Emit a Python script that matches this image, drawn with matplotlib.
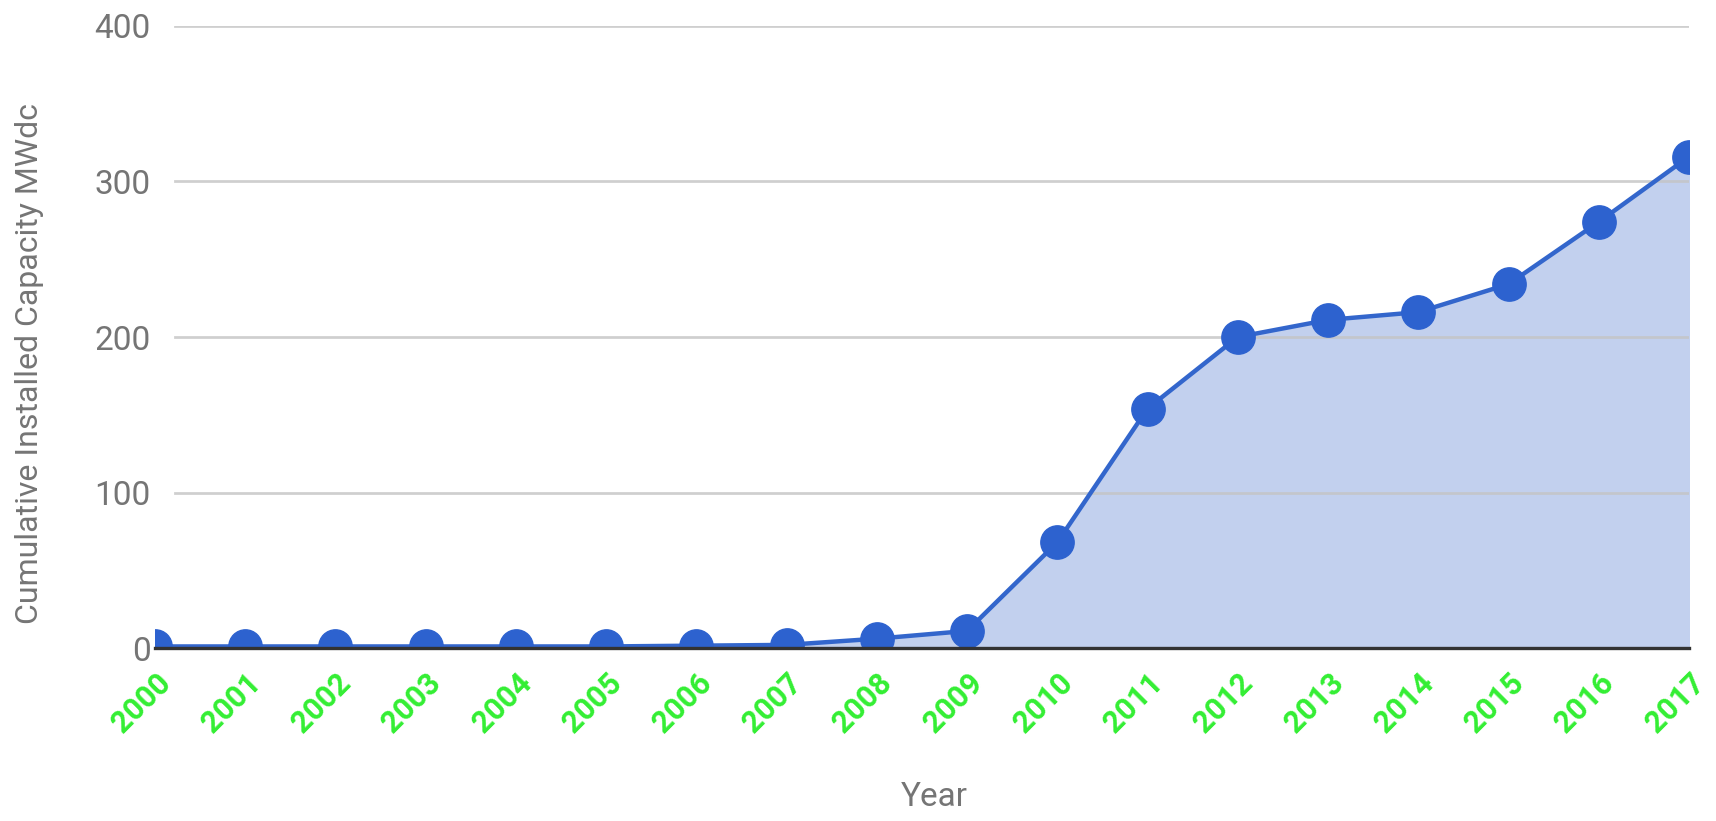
import matplotlib
matplotlib.use('Agg')
import matplotlib.pyplot as plt

plt.rcParams['font.family'] = ['Roboto', 'DejaVu Sans']

# data
years = list(range(2000, 2018))
capacity = [1, 1, 1, 1, 1, 1, 1.5, 2, 6, 11, 68, 154, 200, 211, 216, 234, 274, 316]
y_ticks = [0, 100, 200, 300, 400]

line_color = '#3366cc'
fill_color = '#c2d0ee'
tick_green = '#33ee33'
gray = '#757575'

fig = plt.figure(figsize=(17.16, 8.21), dpi=100)
ax = fig.add_axes([155 / 1716, 1 - 648 / 821, 1534 / 1716, 622 / 821])

ax.fill_between(years, capacity, 0, color=fill_color, zorder=1)
for t in y_ticks[1:]:
    ax.axhline(t, xmin=0.013, xmax=1.0, color='#c4c4c4', lw=2, alpha=0.8, zorder=2)
ax.plot(years, capacity, color=line_color, lw=3.2, marker='o', markersize=24,
        markerfacecolor='#2d62cf', markeredgecolor='#2d62cf', zorder=3)

ax.set_xlim(2000, 2017)
ax.set_ylim(0, 400)

for s in ['top', 'right', 'left']:
    ax.spines[s].set_visible(False)
ax.spines['bottom'].set_color('#333333')
ax.spines['bottom'].set_linewidth(2.4)
ax.spines['bottom'].set_zorder(4)

ax.set_yticks(y_ticks)
ax.set_yticklabels([str(t) for t in y_ticks], color=gray, fontsize=24)
ax.set_xticks(years)
ax.set_xticklabels([str(y) for y in years], rotation=45, ha='right', va='top',
                   rotation_mode='anchor', color=tick_green, fontsize=22, fontweight='bold')
ax.tick_params(axis='both', length=0)
ax.tick_params(axis='y', pad=3)
ax.tick_params(axis='x', pad=14)

ax.set_xlabel('Year', color=gray, fontsize=24, va='center')
ax.xaxis.set_label_coords(0.508, -0.24)
ax.set_ylabel('Cumulative Installed Capacity MWdc', color=gray, fontsize=23, va='center')
ax.yaxis.set_label_coords(-0.082, 0.457)

fig.savefig('out.png', dpi=100)
